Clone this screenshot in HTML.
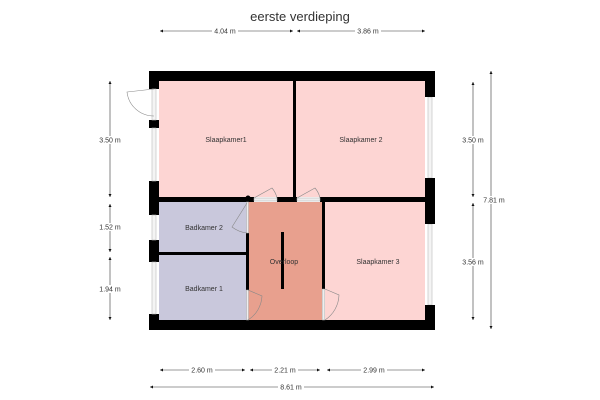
<!DOCTYPE html>
<html><head><meta charset="utf-8"><style>
html,body{margin:0;padding:0;background:#fff;}
svg{display:block;}
text{font-family:"Liberation Sans",sans-serif;fill:#333;}
.d{font-size:7px;}
</style></head><body>
<svg width="600" height="400" viewBox="0 0 600 400" xmlns="http://www.w3.org/2000/svg">
<defs>
<marker id="a" viewBox="0 0 10 10" refX="10" refY="5" markerWidth="5" markerHeight="5" orient="auto-start-reverse"><path d="M0,0L10,5L0,10z" fill="#111"/></marker>
</defs>
<text x="300" y="21" font-size="13" text-anchor="middle" fill="#222">eerste verdieping</text>

<!-- rooms -->
<rect x="159" y="81" width="134" height="116" fill="#fdd5d3"/>
<rect x="296" y="81" width="129" height="116" fill="#fdd5d3"/>
<rect x="325" y="202" width="100" height="118" fill="#fdd5d3"/>
<rect x="159" y="202" width="88" height="50" fill="#c9c8dc"/>
<rect x="159" y="255" width="88" height="65" fill="#c9c8dc"/>
<rect x="248" y="202" width="74" height="118" fill="#e8a08e"/>

<!-- outer walls -->
<rect x="149" y="71" width="286" height="10" fill="#000"/>
<rect x="149" y="320" width="286" height="10" fill="#000"/>
<!-- left wall segments -->
<rect x="149" y="71" width="10" height="18" fill="#000"/>
<rect x="149" y="120" width="10" height="8" fill="#000"/>
<rect x="149" y="181" width="10" height="34" fill="#000"/>
<rect x="149" y="240" width="10" height="22" fill="#000"/>
<rect x="149" y="314" width="10" height="16" fill="#000"/>
<g fill="#f4f4f4" stroke="#bbb" stroke-width="0.6">
<rect x="152" y="89" width="4" height="31"/>
<rect x="152" y="128" width="4" height="53"/>
<rect x="152" y="215" width="4" height="25"/>
<rect x="152" y="262" width="4" height="52"/>
<rect x="428" y="97" width="4" height="81"/>
<rect x="428" y="224" width="4" height="81"/>
</g>
<!-- right wall segments -->
<rect x="425" y="71" width="10" height="26" fill="#000"/>
<rect x="425" y="178" width="10" height="46" fill="#000"/>
<rect x="425" y="305" width="10" height="25" fill="#000"/>

<!-- interior walls -->
<rect x="293" y="81" width="3" height="116" fill="#000"/>
<rect x="159" y="197" width="95" height="5" fill="#000"/>
<rect x="277" y="197" width="20" height="5" fill="#000"/>
<rect x="320" y="197" width="105" height="5" fill="#000"/>
<rect x="159" y="252" width="88" height="3" fill="#000"/>
<rect x="246" y="233" width="3" height="57" fill="#000"/>
<rect x="322" y="202" width="3" height="87" fill="#000"/>
<rect x="281" y="232" width="3" height="57" fill="#000"/>
<circle cx="248" cy="198" r="2.5" fill="#000"/>
<!-- door openings (thin frames) -->
<g fill="#eee" stroke="#aaa" stroke-width="0.5">
<rect x="254" y="198" width="23" height="3"/>
<rect x="297" y="198" width="23" height="3"/>
<rect x="246.5" y="202" width="2" height="31"/>
<rect x="246.5" y="290" width="2" height="30"/>
<rect x="322.5" y="289" width="2" height="31"/>
</g>
<!-- door swings -->
<g fill="none" stroke="#888" stroke-width="0.6">
<path d="M154,89 L127,92 A27,27 0 0 0 154,116"/>
<path d="M254,198 L272,188 A23,23 0 0 1 277,198"/>
<path d="M297,198 L315,188 A23,23 0 0 1 320,198"/>
<path d="M247,203 L232,227 A30,30 0 0 0 247,233"/>
<path d="M248,290 L262,296 A30,30 0 0 1 248,320"/>
<path d="M325,289 L339,295 A31,31 0 0 1 325,320"/>
</g>

<!-- labels -->
<text class="d" x="226" y="142" text-anchor="middle">Slaapkamer1</text>
<text class="d" x="361" y="142" text-anchor="middle">Slaapkamer 2</text>
<text class="d" x="378" y="264" text-anchor="middle">Slaapkamer 3</text>
<text class="d" x="204" y="230" text-anchor="middle">Badkamer 2</text>
<text class="d" x="204" y="291" text-anchor="middle">Badkamer 1</text>
<text class="d" x="284" y="264" text-anchor="middle">Overloop</text>

<!-- dimensions -->
<g stroke="#333" stroke-width="0.6" marker-start="url(#a)" marker-end="url(#a)">
<line x1="160" y1="31" x2="293" y2="31"/>
<line x1="297" y1="31" x2="425" y2="31"/>
<line x1="160" y1="370" x2="245" y2="370"/>
<line x1="250" y1="370" x2="320" y2="370"/>
<line x1="327" y1="370" x2="425" y2="370"/>
<line x1="150" y1="387" x2="434" y2="387"/>
<line x1="110" y1="81" x2="110" y2="197"/>
<line x1="110" y1="204" x2="110" y2="252"/>
<line x1="110" y1="257" x2="110" y2="320"/>
<line x1="473" y1="82" x2="473" y2="197"/>
<line x1="473" y1="203" x2="473" y2="320"/>
<line x1="491" y1="71" x2="491" y2="329"/>
</g>
<g class="d" text-anchor="middle">
<rect x="212" y="27" width="26" height="8" fill="#fff"/><text x="225" y="33.5">4.04 m</text>
<rect x="355" y="27" width="26" height="8" fill="#fff"/><text x="368" y="33.5">3.86 m</text>
<rect x="189" y="366" width="26" height="8" fill="#fff"/><text x="202" y="372.5">2.60 m</text>
<rect x="272" y="366" width="26" height="8" fill="#fff"/><text x="285" y="372.5">2.21 m</text>
<rect x="361" y="366" width="26" height="8" fill="#fff"/><text x="374" y="372.5">2.99 m</text>
<rect x="278" y="383" width="26" height="8" fill="#fff"/><text x="291" y="389.5">8.61 m</text>
<rect x="97" y="136" width="26" height="8" fill="#fff"/><text x="110" y="142.5">3.50 m</text>
<rect x="97" y="223" width="26" height="8" fill="#fff"/><text x="110" y="229.5">1.52 m</text>
<rect x="97" y="285" width="26" height="8" fill="#fff"/><text x="110" y="291.5">1.94 m</text>
<rect x="460" y="136" width="26" height="8" fill="#fff"/><text x="473" y="142.5">3.50 m</text>
<rect x="460" y="258" width="26" height="8" fill="#fff"/><text x="473" y="264.5">3.56 m</text>
<rect x="481" y="196" width="26" height="8" fill="#fff"/><text x="494" y="202.5">7.81 m</text>
</g>
</svg>
</body></html>
